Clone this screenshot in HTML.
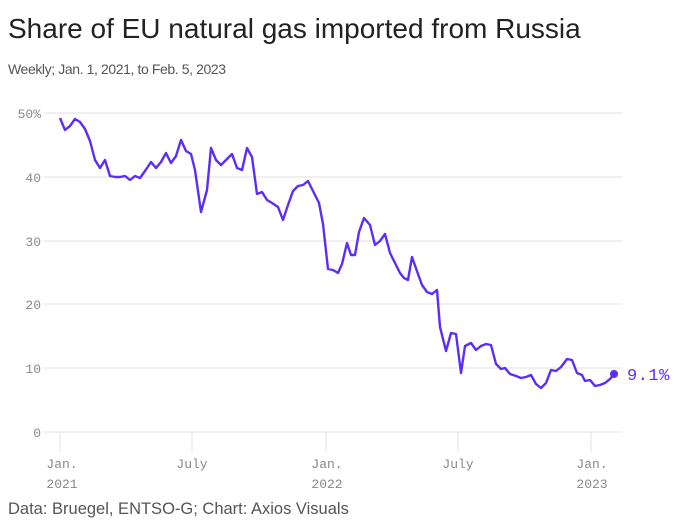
<!DOCTYPE html>
<html><head><meta charset="utf-8"><style>
body{margin:0;width:694px;height:525px;background:#fff;overflow:hidden;font-family:"Liberation Sans",sans-serif}
</style></head><body>
<svg width="694" height="525" xmlns="http://www.w3.org/2000/svg">
<text x="8" y="38" font-size="28" fill="#222" font-family="Liberation Sans,sans-serif">Share of EU natural gas imported from Russia</text>
<text x="8" y="74" font-size="14" fill="#555" font-family="Liberation Sans,sans-serif" letter-spacing="-0.4">Weekly; Jan. 1, 2021, to Feb. 5, 2023</text>
<g stroke="#e6e6e6" stroke-width="1.2">
<line x1="44" x2="622" y1="113" y2="113"/><line x1="44" x2="622" y1="177" y2="177"/>
<line x1="44" x2="622" y1="241" y2="241"/><line x1="44" x2="622" y1="304" y2="304"/>
<line x1="44" x2="622" y1="368" y2="368"/><line x1="44" x2="622" y1="432" y2="432"/>
<line x1="60" x2="60" y1="432" y2="452"/><line x1="192" x2="192" y1="432" y2="452"/>
<line x1="326" x2="326" y1="432" y2="452"/><line x1="458" x2="458" y1="432" y2="452"/>
<line x1="591" x2="591" y1="432" y2="452"/>
</g>
<g font-family="Liberation Mono,monospace" font-size="13" fill="#888" text-anchor="end">
<text x="41" y="118">50%</text><text x="41" y="182">40</text><text x="41" y="246">30</text>
<text x="41" y="309">20</text><text x="41" y="373">10</text><text x="41" y="437">0</text>
</g>
<g font-family="Liberation Mono,monospace" font-size="13" fill="#888" text-anchor="middle">
<text x="62" y="468">Jan.</text><text x="62" y="488">2021</text>
<text x="192" y="468">July</text>
<text x="327" y="468">Jan.</text><text x="327" y="488">2022</text>
<text x="458" y="468">July</text>
<text x="592" y="468">Jan.</text><text x="592" y="488">2023</text>
</g>
<polyline fill="none" stroke="#5b2df5" stroke-width="2.4" stroke-linejoin="round" points="60,118 65,130 70,126 75,119 80,122 85,129 90,141 95,160 100,168 105,160 110,176 115,177 120,177 125,176 130,180 135,176 140,178 145,171 151,162 156,168 161,162 166,153 171,163 176,156 181,140 186,151 191,154 195,170 201,212 207,190 211,148 216,160 221,165 226,160 232,154 237,168 242,170 247,148 252,157 257,194 262,192 267,200 272,203 278,207 283,220 288,205 293,191 298,186 303,185 308,181 314,193 319,203 323,224 328,269 333,270 338,273 342,264 347,243 351,255 355,255 359,232 364,218 370,225 375,245 380,241 385,234 390,253 396,265 400,273 404,278 408,280 412,257 418,274 422,285 427,292 432,294 437,290 440,327 446,351 451,333 456,334 461,373 465,346 471,343 476,350 481,346 486,344 491,345 496,364 501,369 505,368 510,374 516,376 521,378 526,377 531,375 536,384 541,388 546,383 551,370 556,371 561,367 567,359 572,360 577,373 582,375 585,381 590,380 595,386 600,385 605,383 610,379 614,374"/>
<circle cx="614" cy="374" r="4" fill="#5b2df5"/>
<text x="627" y="380" font-family="Liberation Mono,monospace" font-size="17" fill="#5b2df5" letter-spacing="0.5">9.1%</text>
<text x="8" y="514" font-size="16.5" fill="#555" font-family="Liberation Sans,sans-serif">Data: Bruegel, ENTSO-G; Chart: Axios Visuals</text>
</svg>
</body></html>
